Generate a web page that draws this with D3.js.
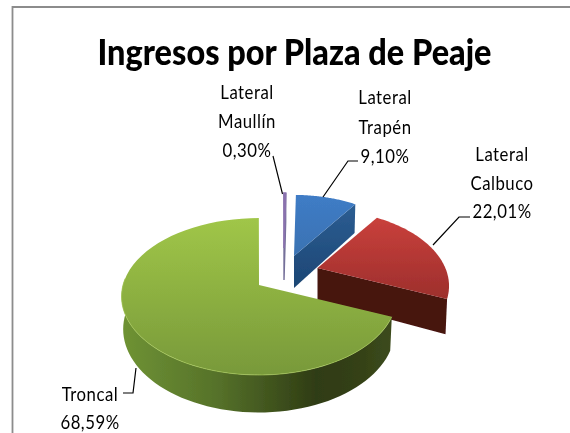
<!DOCTYPE html>
<html><head><meta charset="utf-8">
<script src="https://cdn.jsdelivr.net/npm/d3@7/dist/d3.min.js"></script>
<style>html,body{margin:0;background:#fff}svg{display:block}</style></head>
<body><div id="c"></div>
<script>
const categories = ["Troncal","Lateral Maullín","Lateral Trapén","Lateral Calbuco"];
const values = [68.59,0.30,9.10,22.01];
const valueLabels = ["68,59%","0,30%","9,10%","22,01%"];
const title = "Ingresos por Plaza de Peaje";

const W=570,H=433;
const svg=d3.select("#c").append("svg").attr("width",W).attr("height",H);
const defs=svg.append("defs");
function grad(id,x2,y2,stops){
  const g=defs.append("linearGradient").attr("id",id).attr("x1",0).attr("y1",0).attr("x2",x2).attr("y2",y2);
  stops.forEach(s=>g.append("stop").attr("offset",s[0]).attr("stop-color",s[1]));
}
grad("gTop",0,1,[[0,"#a0c648"],[1,"#78993a"]]);
grad("gSide",1,0,[[0,"#6f9334"],[0.35,"#56722a"],[0.72,"#2f3c14"],[0.85,"#333f16"],[1,"#3c4b1c"]]);
grad("rTop",0,1,[[0,"#c9403c"],[1,"#9d2f2c"]]);
grad("bTop",0,1,[[0,"#3f7cc6"],[1,"#3a72b2"]]);
grad("bCut",0,1,[[0,"#2c5d92"],[1,"#1c4674"]]);
defs.append("filter").attr("id","soft").append("feGaussianBlur").attr("stdDeviation",0.45);
const marks=svg.append("g").attr("filter","url(#soft)");

const pie=d3.pie().value(d=>d.v).sort(null).startAngle(113*Math.PI/180).endAngle(473*Math.PI/180);
const arcs=pie(categories.map((c,i)=>({c,v:values[i]})));

const ky=76.8, kx=136, depth=32;
const explode={
 "Troncal":{x:259,y:285,s:1,b:.1465},
 "Lateral Maullín":{x:284,y:248,s:.8,b:.1465},
 "Lateral Trapén":{x:294,y:256,s:.9,b:.1465},
 "Lateral Calbuco":{x:317.5,y:268,s:.94,b:.25}
};
function proj(e,r,a,z){
  const X=r*e.s*Math.sin(a), Y=-r*e.s*Math.cos(a), q=1-e.b*Y, zs=1-0.012*z;
  return [e.x+kx*X/q*zs, e.y+ky*Y/q+z*depth/q];
}
function sweep(e,a0,a1,z){return d3.range(0,61).map(i=>proj(e,1,a0+(a1-a0)*i/60,z));}
const line=d3.line();
function poly(pts,fill){return marks.append("path").attr("d",line(pts)+"Z").attr("fill",fill);}
function drawSlice(d){
  const e=explode[d.data.c],a0=d.startAngle,a1=d.endAngle;
  const apex=proj(e,0,0,0),apexB=proj(e,0,0,1);
  const top=[apex,...sweep(e,a0,a1,0)];
  if(d.data.c==="Lateral Maullín"){
    poly([apex,apexB,proj(e,1,a1,1),proj(e,1,a1,0)],"#6e6592").attr("stroke","#75709a").attr("stroke-width",1.4);
    poly(top,"#9179b4").attr("stroke","#8a72ae").attr("stroke-width",1.6);
  }
  if(d.data.c==="Lateral Trapén"){
    poly([apex,proj(e,1,a1,0),proj(e,1,a1,1),apexB],"url(#bCut)");
    poly(top,"url(#bTop)");
  }
  if(d.data.c==="Lateral Calbuco"){
    poly([apex,proj(e,1,a1,0),proj(e,1,a1,1),apexB],"#47120f");
    poly(top,"url(#rTop)");
  }
  if(d.data.c==="Troncal"){
    const sEnd=275*Math.PI/180;
    poly([...sweep(e,a0,sEnd,0),...sweep(e,a0,sEnd,1).reverse()],"url(#gSide)");
    poly(top,"url(#gTop)");
    marks.append("path").attr("d",line(sweep(e,a0,sEnd,0))).attr("fill","none").attr("stroke","#a5c855").attr("stroke-width",1).attr("stroke-opacity",.7);
  }
}
["Lateral Maullín","Lateral Trapén","Lateral Calbuco","Troncal"].forEach(n=>drawSlice(arcs.find(a=>a.data.c===n)));

svg.append("path").attr("d","M12.5,433V7H570").attr("fill","none").attr("stroke","#8c8c8c").attr("stroke-width",1.8);

const texts=svg.append("g").attr("filter","url(#soft)");
texts.append("text").attr("x",294.5).attr("y",65).attr("text-anchor","middle")
 .attr("font-family","Lato").attr("font-weight",900).attr("font-size",36)
 .attr("textLength",394).attr("lengthAdjust","spacingAndGlyphs").attr("fill","#000").text(title);

const labelLines=[
 {x:90,ys:[401,429],lines:["Troncal",valueLabels[0]],lead:[[123,393],[133,393],[136,368]]},
 {x:247,ys:[99,128,157],lines:["Lateral","Maullín",valueLabels[1]],lead:[[273,156],[282.5,194]]},
 {x:385,ys:[104,134,163],lines:["Lateral","Trapén",valueLabels[2]],lead:[[358,161],[348,161],[323,197]]},
 {x:502,ys:[161,190,218],lines:["Lateral","Calbuco",valueLabels[3]],lead:[[470,217],[459,217],[433,245]]}
];
labelLines.forEach(l=>{
  svg.append("path").attr("d",line(l.lead)).attr("fill","none").attr("stroke","#000").attr("stroke-width",1.2);
  l.lines.forEach((t,i)=>texts.append("text").attr("transform",`translate(${l.x},${l.ys[i]}) scale(.86,1)`).attr("text-anchor","middle")
    .attr("font-family","Lato").attr("font-size",19.5).attr("letter-spacing",.6).attr("fill","#000").text(t));
});
</script></body></html>
